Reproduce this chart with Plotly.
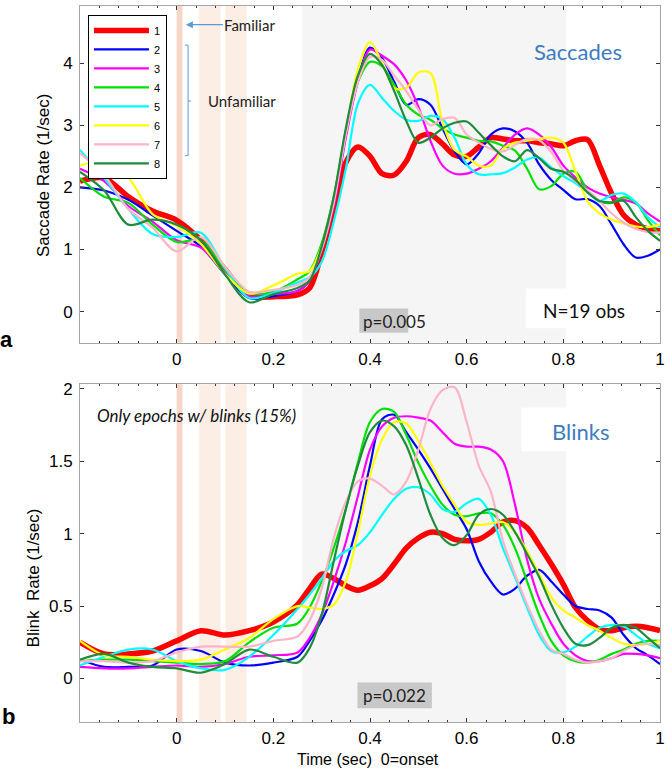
import plotly.graph_objects as go

# ---------------- data ----------------
time_s = [-0.2, -0.15, -0.1, -0.05, 0.0, 0.05, 0.1, 0.15, 0.2, 0.25, 0.275, 0.3, 0.325, 0.35,
          0.375, 0.4, 0.425, 0.45, 0.475, 0.5, 0.525, 0.55, 0.575, 0.6, 0.625, 0.65, 0.675,
          0.7, 0.725, 0.75, 0.775, 0.8, 0.825, 0.85, 0.875, 0.9, 0.925, 0.95, 0.975, 1.0]

series_names = ["1", "2", "3", "4", "5", "6", "7", "8"]

sac1 = [2.1, 2.15, 1.85, 1.62, 1.47, 1.15, 0.68, 0.25, 0.24, 0.27, 0.38, 0.95, 1.65, 2.4, 2.65, 2.5, 2.22, 2.2, 2.42, 2.8, 2.85, 2.7, 2.52, 2.5, 2.65, 2.8, 2.78, 2.75, 2.75, 2.72, 2.7, 2.67, 2.75, 2.77, 2.35, 1.9, 1.55, 1.4, 1.33, 1.3]
sac2 = [2.0, 1.95, 1.8, 1.55, 1.3, 1.05, 0.6, 0.22, 0.25, 0.33, 0.5, 1.0, 1.75, 2.85, 3.75, 4.25, 4.08, 3.7, 3.33, 3.42, 3.33, 2.95, 2.58, 2.37, 2.55, 2.85, 2.95, 2.9, 2.72, 2.37, 2.12, 1.96, 1.81, 1.81, 1.7, 1.4, 1.08, 0.87, 0.9, 1.0]
sac3 = [2.3, 2.1, 1.7, 1.45, 1.15, 1.03, 0.62, 0.25, 0.28, 0.33, 0.5, 1.0, 1.7, 2.8, 3.7, 4.22, 4.12, 3.98, 3.72, 3.3, 2.75, 2.35, 2.22, 2.22, 2.3, 2.42, 2.64, 2.85, 2.95, 2.85, 2.65, 2.35, 2.16, 2.0, 1.9, 1.84, 1.8, 1.74, 1.58, 1.45]
sac4 = [2.15, 1.85, 1.75, 1.4, 1.12, 1.15, 0.68, 0.3, 0.32, 0.52, 0.65, 1.1, 1.85, 2.9, 3.7, 4.02, 3.95, 3.65, 3.33, 3.17, 3.09, 2.95, 2.85, 2.8, 2.75, 2.74, 2.67, 2.59, 2.3, 1.97, 2.02, 2.22, 2.25, 1.95, 1.77, 1.75, 1.84, 1.76, 1.47, 1.23]
sac5 = [2.6, 2.15, 1.65, 1.25, 1.2, 1.27, 0.7, 0.22, 0.3, 0.47, 0.55, 0.8, 1.45, 2.3, 3.35, 3.65, 3.44, 3.23, 3.09, 3.07, 3.15, 3.1, 2.8, 2.37, 2.21, 2.21, 2.23, 2.32, 2.45, 2.48, 2.32, 2.18, 2.07, 1.92, 1.78, 1.88, 1.9, 1.76, 1.52, 1.36]
sac6 = [2.35, 2.42, 2.16, 1.57, 1.38, 1.09, 0.61, 0.29, 0.42, 0.61, 0.65, 1.05, 1.8, 2.9, 3.9, 4.34, 4.0, 3.6, 3.6, 3.85, 3.84, 3.05, 2.6, 2.5, 2.35, 2.35, 2.62, 2.72, 2.75, 2.78, 2.8, 2.72, 2.26, 1.78, 1.58, 1.48, 1.42, 1.37, 1.36, 1.4]
sac7 = [2.55, 2.2, 1.65, 1.35, 0.97, 1.2, 0.72, 0.32, 0.35, 0.43, 0.55, 1.0, 1.75, 2.85, 3.7, 4.1, 4.05, 3.8, 3.55, 3.25, 3.0, 3.1, 3.12, 2.85, 2.72, 2.62, 2.58, 2.68, 2.78, 2.76, 2.57, 2.27, 2.1, 1.95, 1.78, 1.58, 1.43, 1.33, 1.28, 1.27]
sac8 = [2.25, 1.95, 1.4, 1.48, 1.4, 1.15, 0.6, 0.15, 0.28, 0.38, 0.5, 1.05, 1.85, 2.95, 3.8, 4.15, 3.97, 3.55, 3.07, 2.72, 2.8, 2.95, 3.04, 3.06, 2.88, 2.68, 2.5, 2.42, 2.6, 2.47, 2.3, 2.25, 2.12, 1.92, 1.78, 1.76, 1.78, 1.52, 1.3, 1.14]

blk1 = [0.25, 0.17, 0.17, 0.19, 0.26, 0.33, 0.3, 0.33, 0.39, 0.51, 0.62, 0.72, 0.69, 0.64, 0.61, 0.64, 0.69, 0.79, 0.9, 0.97, 1.01, 1.0, 0.96, 0.95, 0.96, 1.01, 1.08, 1.09, 1.04, 0.92, 0.79, 0.65, 0.49, 0.4, 0.34, 0.33, 0.35, 0.36, 0.35, 0.33]
blk2 = [0.13, 0.08, 0.08, 0.09, 0.2, 0.19, 0.11, 0.09, 0.11, 0.15, 0.26, 0.4, 0.58, 0.79, 1.08, 1.47, 1.79, 1.82, 1.7, 1.58, 1.45, 1.31, 1.17, 1.03, 0.81, 0.67, 0.58, 0.62, 0.71, 0.75, 0.67, 0.58, 0.5, 0.48, 0.47, 0.42, 0.3, 0.21, 0.16, 0.1]
blk3 = [0.08, 0.07, 0.07, 0.08, 0.09, 0.08, 0.1, 0.15, 0.16, 0.18, 0.28, 0.44, 0.67, 0.94, 1.26, 1.58, 1.74, 1.8, 1.81, 1.8, 1.78, 1.7, 1.62, 1.6, 1.6, 1.58, 1.5, 1.2, 0.82, 0.55, 0.38, 0.24, 0.16, 0.12, 0.12, 0.14, 0.17, 0.17, 0.16, 0.14]
blk4 = [0.12, 0.13, 0.13, 0.12, 0.11, 0.1, 0.12, 0.25, 0.35, 0.38, 0.49, 0.67, 0.9, 1.17, 1.49, 1.77, 1.86, 1.84, 1.68, 1.49, 1.33, 1.2, 1.13, 1.12, 1.14, 1.14, 1.06, 0.9, 0.67, 0.44, 0.26, 0.16, 0.12, 0.11, 0.13, 0.17, 0.2, 0.24, 0.26, 0.26]
blk5 = [0.09, 0.15, 0.2, 0.2, 0.12, 0.07, 0.06, 0.15, 0.3, 0.48, 0.58, 0.69, 0.81, 0.88, 0.92, 1.01, 1.13, 1.24, 1.31, 1.32, 1.27, 1.17, 1.15, 1.21, 1.24, 1.13, 0.9, 0.7, 0.49, 0.3, 0.19, 0.18, 0.22, 0.29, 0.35, 0.37, 0.36, 0.3, 0.24, 0.21]
blk6 = [0.26, 0.16, 0.15, 0.13, 0.12, 0.13, 0.2, 0.28, 0.41, 0.5, 0.49, 0.48, 0.51, 0.67, 1.01, 1.4, 1.65, 1.77, 1.76, 1.64, 1.49, 1.33, 1.2, 1.08, 1.06, 1.07, 1.08, 1.01, 0.88, 0.72, 0.56, 0.47, 0.42, 0.37, 0.33, 0.28, 0.24, 0.23, 0.24, 0.26]
blk7 = [0.12, 0.12, 0.11, 0.12, 0.18, 0.22, 0.22, 0.22, 0.26, 0.29, 0.4, 0.62, 0.97, 1.22, 1.36, 1.38, 1.33, 1.27, 1.36, 1.58, 1.86, 1.99, 2.01, 1.77, 1.47, 1.29, 0.95, 0.72, 0.51, 0.33, 0.2, 0.17, 0.13, 0.11, 0.12, 0.14, 0.19, 0.23, 0.24, 0.23]
blk8 = [0.13, 0.17, 0.11, 0.08, 0.07, 0.04, 0.1, 0.2, 0.15, 0.11, 0.21, 0.44, 0.81, 1.17, 1.47, 1.7, 1.78, 1.74, 1.61, 1.38, 1.13, 0.97, 0.92, 0.99, 1.13, 1.17, 1.13, 1.01, 0.86, 0.7, 0.51, 0.35, 0.24, 0.23, 0.28, 0.35, 0.37, 0.35, 0.28, 0.21]

x_tick_vals = [0, 0.2, 0.4, 0.6, 0.8, 1.0]
x_tick_text = ["0", "0.2", "0.4", "0.6", "0.8", "1"]
sac_tick_vals = [0, 1, 2, 3, 4]
blk_tick_vals = [0, 0.5, 1, 1.5, 2]
blk_tick_text = ["0", "0.5", "1", "1.5", "2"]

# ---------------- style ----------------
colors = ["#FF0000", "#0000FF", "#FF00FF", "#00E000", "#00FFFF", "#FFFF00", "#FFB4C8", "#1E8C3C"]
widths = [5.5, 2.2, 2.2, 2.2, 2.2, 2.2, 2.2, 2.2]
SANS = "Liberation Sans, Arial, sans-serif"
CAL = "Lato, Open Sans, sans-serif"
BLUE = "#3D7CC0"

PW = 585.0   # plot width in px
PH = 721.0   # plot height in px (both panels incl. gap)


def px_x(px):
    return (px - 80) / PW


def px_y(py):
    return (722 - py) / PH


sac = [sac1, sac2, sac3, sac4, sac5, sac6, sac7, sac8]
blk = [blk1, blk2, blk3, blk4, blk5, blk6, blk7, blk8]

fig = go.Figure()
for i in range(8):
    fig.add_trace(go.Scatter(x=time_s, y=sac[i], mode="lines", name=series_names[i],
                             line=dict(color=colors[i], width=widths[i], shape="spline", smoothing=0.9),
                             xaxis="x", yaxis="y", showlegend=True))
for i in range(8):
    fig.add_trace(go.Scatter(x=time_s, y=blk[i], mode="lines", name=series_names[i],
                             line=dict(color=colors[i], width=widths[i], shape="spline", smoothing=0.9),
                             xaxis="x2", yaxis="y2", showlegend=False))

shapes = []
for xr, yr in [("x", "y"), ("x2", "y2")]:
    shapes.append(dict(type="rect", xref=xr, yref=yr + " domain", x0=0.26, x1=0.806, y0=0, y1=1,
                       fillcolor="#F5F5F5", line=dict(width=0), layer="below"))
    shapes.append(dict(type="rect", xref=xr, yref=yr + " domain", x0=0.0, x1=0.012, y0=0, y1=1,
                       fillcolor="#F7D6C8", line=dict(width=0), layer="below"))
    shapes.append(dict(type="rect", xref=xr, yref=yr + " domain", x0=0.046, x1=0.091, y0=0, y1=1,
                       fillcolor="#FCEDE5", line=dict(width=0), layer="below"))
    shapes.append(dict(type="rect", xref=xr, yref=yr + " domain", x0=0.101, x1=0.145, y0=0, y1=1,
                       fillcolor="#FCEDE5", line=dict(width=0), layer="below"))

shapes.append(dict(type="rect", xref="x", yref="y", x0=0.378, x1=0.479, y0=0.05, y1=-0.34,
                   fillcolor="#C8C8C8", line=dict(width=0), layer="below"))
shapes.append(dict(type="rect", xref="x", yref="y", x0=0.723, x1=0.96, y0=0.37, y1=-0.27,
                   fillcolor="white", line=dict(width=0), layer="below"))
shapes.append(dict(type="rect", xref="x2", yref="y2", x0=0.374, x1=0.528, y0=-0.027, y1=-0.205,
                   fillcolor="#C8C8C8", line=dict(width=0), layer="below"))
shapes.append(dict(type="rect", xref="x2", yref="y2", x0=0.713, x1=0.87, y0=1.87, y1=1.568,
                   fillcolor="white", line=dict(width=0), layer="below"))
shapes.append(dict(type="path", xref="x", yref="y",
                   path="M 0.017,4.29 L 0.0236,4.29 L 0.0236,2.51 L 0.017,2.51 M 0.0236,3.39 L 0.03,3.39",
                   line=dict(color="#5B9BD5", width=1)))

annotations = [
    dict(text="Familiar", x=0.019, y=4.62, xref="x", yref="y", ax=64, ay=0, showarrow=True,
         arrowhead=2, arrowsize=1, arrowwidth=1.4, arrowcolor="#5B9BD5", standoff=0,
         font=dict(family=CAL, size=15, color="#222")),
    dict(text="Unfamiliar", x=0.135, y=3.39, xref="x", yref="y", showarrow=False,
         font=dict(family=CAL, size=15, color="#222")),
    dict(text="Saccades", x=0.83, y=4.18, xref="x", yref="y", showarrow=False,
         font=dict(family=CAL, size=22, color=BLUE)),
    dict(text="N=19 obs", x=0.842, y=0.02, xref="x", yref="y", showarrow=False,
         font=dict(family=CAL, size=19, color="#111")),
    dict(text="p=0.005", x=0.45, y=-0.16, xref="x", yref="y", showarrow=False,
         font=dict(family=CAL, size=17, color="#222")),
    dict(text="p=0.022", x=0.45, y=-0.116, xref="x2", yref="y2", showarrow=False,
         font=dict(family=CAL, size=17, color="#222")),
    dict(text="Blinks", x=0.836, y=1.705, xref="x2", yref="y2", showarrow=False,
         font=dict(family=CAL, size=22, color=BLUE)),
    dict(text="<i>Only epochs w/ blinks (15%)</i>", x=0.04, y=1.815, xref="x2", yref="y2", showarrow=False,
         font=dict(family=CAL, size=17, color="#111")),
    dict(text="<b>a</b>", x=px_x(6), y=px_y(337), xref="paper", yref="paper", showarrow=False,
         xanchor="center", yanchor="middle", font=dict(family=SANS, size=22, color="black")),
    dict(text="<b>b</b>", x=px_x(8), y=px_y(716), xref="paper", yref="paper", showarrow=False,
         xanchor="center", yanchor="middle", font=dict(family=SANS, size=22, color="black")),
    dict(text="Saccade Rate (1/sec)", x=px_x(44), y=px_y(172), xref="paper", yref="paper",
         xanchor="center", yanchor="middle",
         textangle=-90, showarrow=False, font=dict(family=SANS, size=17, color="black")),
    dict(text="Blink  Rate (1/sec)", x=px_x(33), y=px_y(577), xref="paper", yref="paper",
         xanchor="center", yanchor="middle",
         textangle=-90, showarrow=False, font=dict(family=SANS, size=17, color="black")),
    dict(text="Time (sec)  0=onset", x=px_x(370), y=px_y(760), xref="paper", yref="paper",
         xanchor="center", yanchor="middle",
         showarrow=False, font=dict(family=SANS, size=16, color="black")),
]

axis_common = dict(showline=True, linecolor="#A6A6A6", linewidth=1, mirror="ticks",
                   ticks="inside", ticklen=4, tickcolor="#333", showgrid=False, zeroline=False,
                   ticklabeloverflow="allow",
                   tickfont=dict(family=SANS, size=17, color="black"))

fig.update_layout(
    width=666, height=771,
    margin=dict(l=80, r=1, t=1, b=49),
    paper_bgcolor="white", plot_bgcolor="white",
    shapes=shapes, annotations=annotations,
    showlegend=True,
    legend=dict(x=px_x(88), y=px_y(10), xanchor="left", yanchor="top",
                bgcolor="white", bordercolor="black", borderwidth=1,
                font=dict(family=SANS, size=11, color="black"), itemwidth=55,
                tracegroupgap=0),
    xaxis=dict(domain=[0, 1], range=[-0.2, 1.0], anchor="y", tickvals=x_tick_vals, ticktext=x_tick_text,
               minor=dict(dtick=0.04, tick0=0, ticks="inside", ticklen=2, tickcolor="#333"),
               ticklabelstandoff=1, **axis_common),
    yaxis=dict(domain=[px_y(340), 1], range=[-0.5, 4.92], anchor="x", tickvals=sac_tick_vals,
               ticklabelstandoff=3, **axis_common),
    xaxis2=dict(domain=[0, 1], range=[-0.2, 1.0], anchor="y2", tickvals=x_tick_vals, ticktext=x_tick_text,
                minor=dict(dtick=0.04, tick0=0, ticks="inside", ticklen=2, tickcolor="#333"),
                ticklabelstandoff=1, **axis_common),
    yaxis2=dict(domain=[0, px_y(382)], range=[-0.3, 2.03], anchor="x2", tickvals=blk_tick_vals,
                ticktext=blk_tick_text, ticklabelstandoff=3, **axis_common),
)

fig.write_html("out.html", config={"displayModeBar": False},
               post_script="document.body.style.margin='0px';")
